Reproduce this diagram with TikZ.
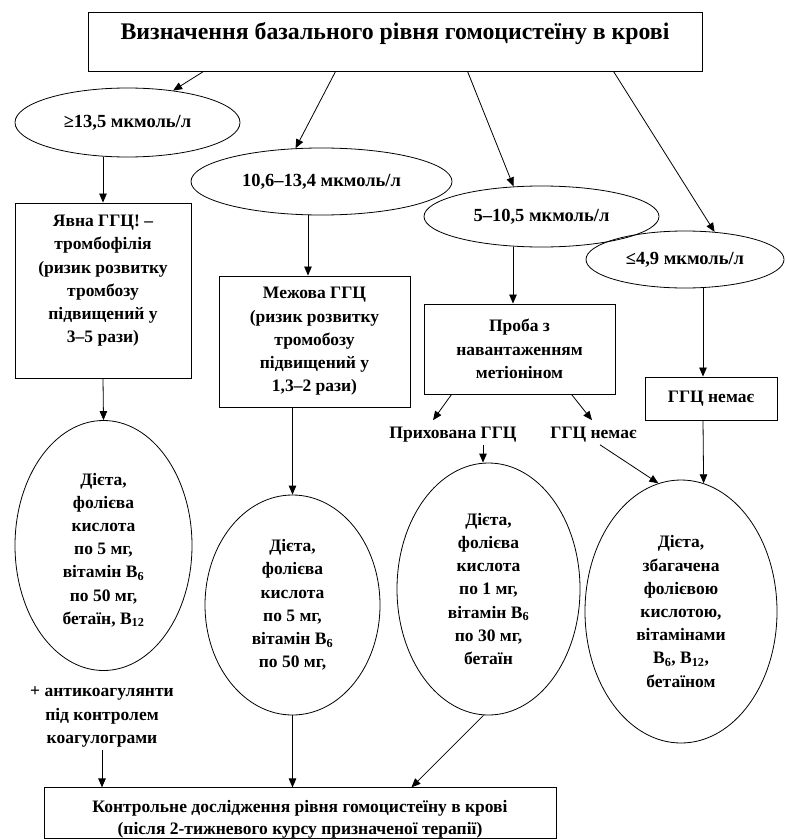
\documentclass[tikz,border=0pt]{standalone}
\usepackage{fontspec}
\setmainfont{Liberation Serif}
\usetikzlibrary{shapes.geometric,arrows.meta,calc}
\begin{document}
\begin{tikzpicture}[x=1pt,y=-1pt,
  every node/.style={font=\bfseries\fontsize{17.5}{23.2}\selectfont, align=center, inner sep=0pt},
  boxnode/.style={draw, line width=0.9pt, rectangle},
  ell/.style={draw, line width=0.8pt, ellipse},
  lvl/.style={ell, font=\bfseries\fontsize{18.5}{23}\selectfont},
  arr/.style={-{Triangle[length=9pt,width=7.5pt]}, line width=0.8pt}
]
\useasboundingbox (0,0) rectangle (785,840);

% title
\node[boxnode, minimum width=614pt, text height=28pt, text depth=31pt,
      font=\bfseries\fontsize{23.8}{28}\selectfont] (top) at (395,41.5)
  {Визначення базального рівня гомоцистеїну в крові};

% level ellipses
\node[lvl, minimum width=225pt, minimum height=69pt] (e1) at (127.5,122.5) {≥13,5 мкмоль/л};
\node[lvl, minimum width=261pt, minimum height=67pt] (e2) at (321.5,181.5) {10,6–13,4 мкмоль/л};
\node[lvl, minimum width=235pt, minimum height=61pt] (e3) at (541.5,216.5) {5–10,5 мкмоль/л};
\node[lvl, minimum width=198pt, minimum height=57pt] (e4) at (685,259.5) {≤4,9 мкмоль/л};

% boxes
\node[boxnode, minimum width=176pt, minimum height=175pt] (b1) at (103,290.5)
  {Явна ГГЦ! –\\тромбофілія\\(ризик розвитку\\тромбозу\\підвищений у\\3–5 рази)\\\mbox{}};
\node[boxnode, minimum width=191pt, minimum height=131pt] (b2) at (314.5,341.5)
  {Межова ГГЦ\\(ризик розвитку\\тромобозу\\підвищений у\\1,3–2 рази)};
\node[boxnode, minimum width=191pt, minimum height=90pt] (b3) at (519.5,349)
  {Проба з\\навантаженням\\метіоніном};
\node[boxnode, minimum width=132pt, minimum height=43pt] (b4) at (711,398.5) {ГГЦ немає};

\node (t1) at (453,435) {Прихована ГГЦ};
\node (t2) at (593.5,435) {ГГЦ немає};

% therapy ellipses
\node[ell, minimum width=177pt, minimum height=250pt] (d1) at (103.5,545.5)
  {\mbox{}\\[-2pt]Дієта,\\фолієва\\кислота\\по 5 мг,\\вітамін B\textsubscript{6}\\по 50 мг,\\бетаїн, B\textsubscript{12}};
\node[ell, minimum width=175pt, minimum height=220pt] (d2) at (292.5,605)
  {Дієта,\\фолієва\\кислота\\по 5 мг,\\вітамін B\textsubscript{6}\\по 50 мг,};
\node[ell, minimum width=183pt, minimum height=252pt] (d3) at (488.5,589)
  {Дієта,\\фолієва\\кислота\\по 1 мг,\\вітамін B\textsubscript{6}\\по 30 мг,\\бетаїн};
\node[ell, minimum width=192pt, minimum height=263pt] (d4) at (681,611.5)
  {Дієта,\\збагачена\\фолієвою\\кислотою,\\вітамінами\\B\textsubscript{6}, B\textsubscript{12},\\бетаїном};

\node (anti) at (102,717) {+ антикоагулянти\\під контролем\\коагулограми};

\node[boxnode, minimum width=512pt, minimum height=50pt,
      font=\bfseries\fontsize{17.5}{21.5}\selectfont] (bot) at (300,813)
  {\mbox{}\\[3.5pt]Контрольне дослідження рівня гомоцистеїну в крові\\(після 2-тижневого курсу призначеної терапії)};

% connectors
\draw[arr] ($(top.south west)+(116,0)$) -- (e1.35);
\draw[arr] ($(top.south west)+(248,0)$) -- (e2.128);
\draw[arr] ($(top.south west)+(380,0)$) -- (e3.133);
\draw[arr] ($(top.south west)+(526,0)$) -- (e4.43);

\draw[arr] (e1.south -| b1.north) -- (b1.north);
\draw[arr] (b1.south) -- (d1.north);
\draw[arr] ($(e2.south)+(-13.5,0)$) -- ($(b2.north)+(-6.5,0)$);
\draw[arr] (d2.north |- b2.south) -- (d2.north);
\draw[arr] ($(e3.south)+(-28.5,0)$) -- ($(b3.north)+(-6.5,0)$);
\draw[arr] ($(e4.south)+(18,0)$) -- ($(b4.north)+(-8,0)$);

\draw[arr] ($(b3.south west)+(28,0)$) -- ($(t1.north)+(-20,-7)$);
\draw[arr] ($(b3.south west)+(148,0)$) -- ($(t2.north)+(-1.5,-7)$);
\draw[arr] ($(t1.south)+(30,2)$) -- ($(d3.north)+(-5.5,0)$);
\draw[arr] ($(t2.south)+(6.5,2)$) -- (d4.100);
\draw[arr] ($(b4.south)+(-8,0)$) -- (d4.80);

\draw[arr] ($(anti.south)+(0,3)$) -- (anti.south |- bot.north);
\draw[arr] (d2.south) -- (d2.south |- bot.north);
\draw[arr] ($(d3.south)+(-5,0)$) -- ($(bot.north east)+(-145,0)$);
\end{tikzpicture}
\end{document}
